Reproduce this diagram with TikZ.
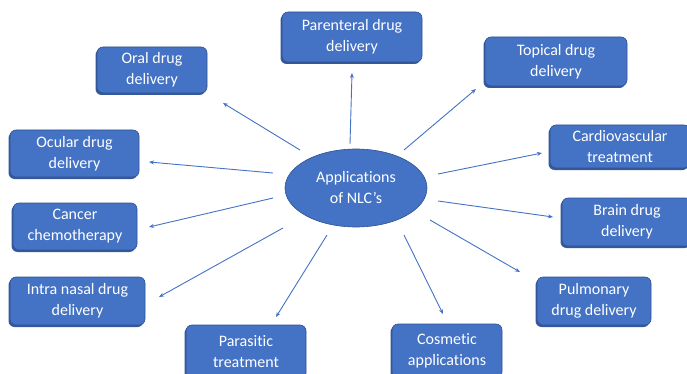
\documentclass[tikz,border=0pt]{standalone}
\usepackage{fontspec}
\setmainfont[Ligatures=CommonOff]{Carlito}
\usetikzlibrary{arrows.meta,shadows,shapes.geometric}
\definecolor{boxblue}{HTML}{4472C4}
\definecolor{boxedge}{HTML}{2F528F}
\definecolor{shade}{HTML}{35599A}
\begin{document}
\begin{tikzpicture}[x=1pt,y=-1pt,
  appbox/.style={rounded corners=6pt, fill=boxblue, draw=boxedge, line width=0.6pt,
    text=white, align=center, font=\fontsize{16}{21}\selectfont, inner sep=0pt,
    drop shadow={shadow xshift=-1.5pt, shadow yshift=-2pt, fill=shade, opacity=1}},
  hub/.style={ellipse, fill=boxblue, draw=boxedge, line width=0.6pt, text=white,
    align=center, font=\fontsize{16}{21}\selectfont, inner sep=0pt},
  arr/.style={draw=boxblue, line width=0.9pt, -{Stealth[length=5pt,width=4pt]}}]
\useasboundingbox (0,0) rectangle (687,374);
\clip (0,0) rectangle (687,374);
% hub
\node[hub, minimum width=142pt, minimum height=78pt] (ell) at (356,188) {Applications\\of NLC’s};
% boxes
\node[appbox, minimum width=110pt, minimum height=46pt] (oral) at (152,70) {Oral drug\\delivery};
\node[appbox, minimum width=140pt, minimum height=50pt] (par) at (352,37) {Parenteral drug\\delivery};
\node[appbox, minimum width=142pt, minimum height=49pt] (top) at (556,61.5) {Topical drug\\delivery};
\node[appbox, minimum width=140pt, minimum height=43pt] (card) at (620,146.5) {Cardiovascular\\treatment};
\node[appbox, minimum width=130pt, minimum height=48pt] (brain) at (627,222) {Brain drug\\delivery};
\node[appbox, minimum width=114pt, minimum height=48pt] (pulm) at (594,301) {Pulmonary\\drug delivery};
\node[appbox, minimum width=110pt, minimum height=54pt] (cosm) at (447,351) {Cosmetic\\applications};
\node[appbox, minimum width=120pt, minimum height=54pt] (para) at (246,352) {Parasitic\\treatment};
\node[appbox, minimum width=135pt, minimum height=48pt] (nasal) at (77.5,301) {Intra nasal drug\\delivery};
\node[appbox, minimum width=124pt, minimum height=47pt] (canc) at (75,226.5) {Cancer\\chemotherapy};
\node[appbox, minimum width=129pt, minimum height=47pt] (ocul) at (74.5,153.5) {Ocular drug\\delivery};
% arrow ends
\coordinate (s1) at (300,150); \coordinate (e1) at (223,103);
\coordinate (s2) at (350,144); \coordinate (e2) at (352,73);
\coordinate (s3) at (404,150); \coordinate (e3) at (476,89);
\coordinate (s4) at (438,174); \coordinate (e4) at (542,153);
\coordinate (s5) at (438,201); \coordinate (e5) at (553,217);
\coordinate (s6) at (430,220); \coordinate (e6) at (520,272);
\coordinate (s7) at (404,235); \coordinate (e7) at (443,314);
\coordinate (s8) at (327,235); \coordinate (e8) at (276,317);
\coordinate (s9) at (283,228); \coordinate (e9) at (159,297);
\coordinate (s10) at (273,198); \coordinate (e10) at (149,227);
\coordinate (s11) at (273,173); \coordinate (e11) at (149,162);
\draw[arr] (s1) -- (e1);
\draw[arr] (s2) -- (e2);
\draw[arr] (s3) -- (e3);
\draw[arr] (s4) -- (e4);
\draw[arr] (s5) -- (e5);
\draw[arr] (s6) -- (e6);
\draw[arr] (s7) -- (e7);
\draw[arr] (s8) -- (e8);
\draw[arr] (s9) -- (e9);
\draw[arr] (s10) -- (e10);
\draw[arr] (s11) -- (e11);
\end{tikzpicture}
\end{document}
